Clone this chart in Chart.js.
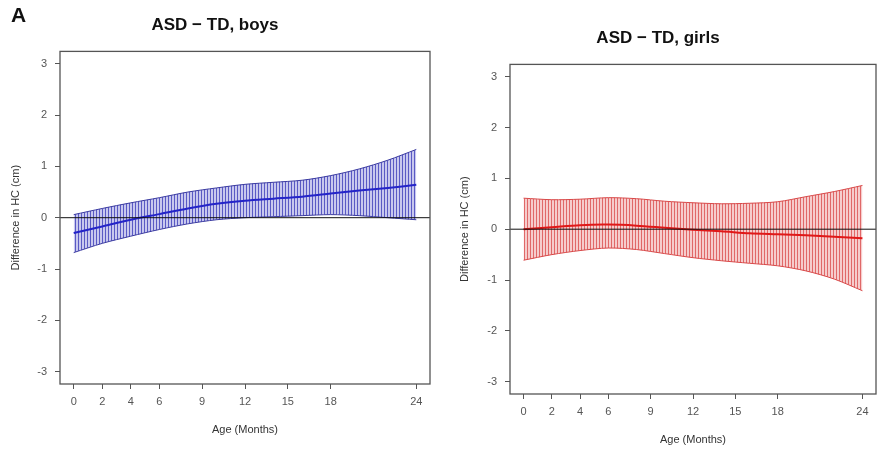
<!DOCTYPE html>
<html>
<head>
<meta charset="utf-8">
<script src="https://cdn.jsdelivr.net/npm/chart.js"></script>
<style>
  body { margin: 0; background: #fff; }
  #wrap { position: relative; width: 878px; height: 451px; }
  .panel { position: absolute; top: 0; height: 451px; }
  #boxA { left: 0; width: 440px; }
  #boxB { left: 440px; width: 438px; }
  #tag { position: absolute; left: 11px; top: 3px; font: bold 21px "Liberation Sans", Arial, sans-serif; color: #111; }
</style>
</head>
<body>
<div id="wrap">
  <div class="panel" id="boxA"><canvas id="boys" width="440" height="451"></canvas></div>
  <div class="panel" id="boxB"><canvas id="girls" width="438" height="451"></canvas></div>
  <div id="tag">A</div>
</div>
<script>
const ages = [0, 2, 4, 6, 8, 10, 12, 14, 16, 18, 20, 22, 24];
const ageTicks = [0, 2, 4, 6, 9, 12, 15, 18, 24];
const diffTicks = [-3, -2, -1, 0, 1, 2, 3];

// boys: ASD - TD difference and confidence band
const boysMean  = [-0.30, -0.17, -0.04, 0.07, 0.18, 0.27, 0.33, 0.37, 0.41, 0.47, 0.53, 0.58, 0.64];
const boysUpper = [0.06, 0.18, 0.29, 0.39, 0.50, 0.58, 0.65, 0.69, 0.73, 0.82, 0.95, 1.12, 1.33];
const boysLower = [-0.68, -0.50, -0.36, -0.23, -0.12, -0.04, 0.00, 0.02, 0.04, 0.06, 0.04, 0.00, -0.04];

// girls
const girlsMean  = [0.00, 0.04, 0.08, 0.09, 0.07, 0.03, -0.01, -0.04, -0.08, -0.10, -0.12, -0.15, -0.18];
const girlsUpper = [0.61, 0.58, 0.59, 0.62, 0.60, 0.55, 0.52, 0.50, 0.51, 0.54, 0.64, 0.74, 0.86];
const girlsLower = [-0.61, -0.50, -0.42, -0.37, -0.40, -0.48, -0.56, -0.62, -0.67, -0.72, -0.82, -0.98, -1.21];

const FONT = '"Liberation Sans", Arial, sans-serif';

// vertical hatching like the R segments
function hatch(lineCol, gapCol) {
  const c = document.createElement('canvas');
  c.width = 3; c.height = 4;
  const g = c.getContext('2d');
  g.fillStyle = gapCol; g.fillRect(0, 0, 3, 4);
  g.fillStyle = lineCol; g.fillRect(0, 0, 1, 4);
  return g.createPattern(c, 'repeat');
}

function pts(ys) {
  return ages.map((a, i) => ({ x: a, y: ys[i] }));
}

// box around plot + zero line on top
const frame = {
  id: 'frame',
  afterDatasetsDraw(chart) {
    const { ctx, chartArea: a, scales } = chart;
    const y0 = scales.y.getPixelForValue(0);
    ctx.save();
    ctx.strokeStyle = '#111';
    ctx.lineWidth = 1;
    ctx.beginPath();
    ctx.moveTo(a.left, y0); ctx.lineTo(a.right, y0);
    ctx.stroke();
    ctx.strokeStyle = '#555';
    ctx.lineWidth = 1.3;
    ctx.strokeRect(a.left, a.top, a.right - a.left, a.bottom - a.top);
    ctx.restore();
  }
};

function makeChart(id, title, mean, upper, lower, lineCol, edgeCol, pat, o) {
  new Chart(id, {
    type: 'line',
    data: {
      datasets: [
        // mean first so it is drawn last, over the band
        { data: pts(mean), borderColor: lineCol, borderWidth: 2, pointRadius: 0, tension: 0.3, fill: false },
        { data: pts(lower), borderColor: edgeCol, borderWidth: 1, pointRadius: 0, tension: 0.3, fill: false },
        { data: pts(upper), borderColor: edgeCol, borderWidth: 1, pointRadius: 0, tension: 0.3, fill: '-1', backgroundColor: pat }
      ]
    },
    options: {
      responsive: false,
      animation: false,
      layout: { padding: { top: o.top, right: o.right, left: 0, bottom: 0 } },
      plugins: {
        legend: { display: false },
        tooltip: { enabled: false },
        title: {
          display: true, text: title, color: '#111',
          font: { family: FONT, size: 17, weight: 'bold' },
          padding: { top: o.titleTop, bottom: o.titleBottom }
        }
      },
      scales: {
        x: {
          type: 'linear', min: -0.96, max: 24.96,
          afterBuildTicks: s => { s.ticks = ageTicks.map(v => ({ value: v })); },
          afterFit: s => { s.height = o.xh; },
          grid: { color: 'transparent', tickColor: '#555', tickLength: 5, drawOnChartArea: false },
          border: { display: false },
          ticks: { color: '#555', font: { family: FONT, size: 11 }, padding: 6, maxRotation: 0, autoSkip: false },
          title: { display: true, text: 'Age (Months)', color: '#333', font: { family: FONT, size: 11 }, padding: { top: 0, bottom: o.xtPad } }
        },
        y: {
          min: -3.24, max: 3.24,
          afterBuildTicks: s => { s.ticks = diffTicks.map(v => ({ value: v })); },
          afterFit: s => { s.width = o.yw; },
          grid: { color: 'transparent', tickColor: '#555', tickLength: 5, drawOnChartArea: false },
          border: { display: false },
          ticks: { color: '#555', font: { family: FONT, size: 11 }, padding: 8 },
          title: { display: true, text: 'Difference in HC (cm)', color: '#333', font: { family: FONT, size: 11 }, padding: { top: o.ytPad, bottom: 0 } }
        }
      }
    },
    plugins: [frame]
  });
}

makeChart('boys', 'ASD \u2212 TD, boys', boysMean, boysUpper, boysLower,
  '#2424c8', '#3a3aa0', hatch('#5a5ac4', '#c8c8ee'),
  { top: 0, right: 10, titleTop: 15, titleBottom: 16, xh: 67, xtPad: 14, yw: 60, ytPad: 9 });

makeChart('girls', 'ASD \u2212 TD, girls', girlsMean, girlsUpper, girlsLower,
  '#e01818', '#d84848', hatch('#e06868', '#f6cccc'),
  { top: 13, right: 2, titleTop: 15, titleBottom: 16, xh: 57, xtPad: 4, yw: 70, ytPad: 18 });
</script>
</body>
</html>
